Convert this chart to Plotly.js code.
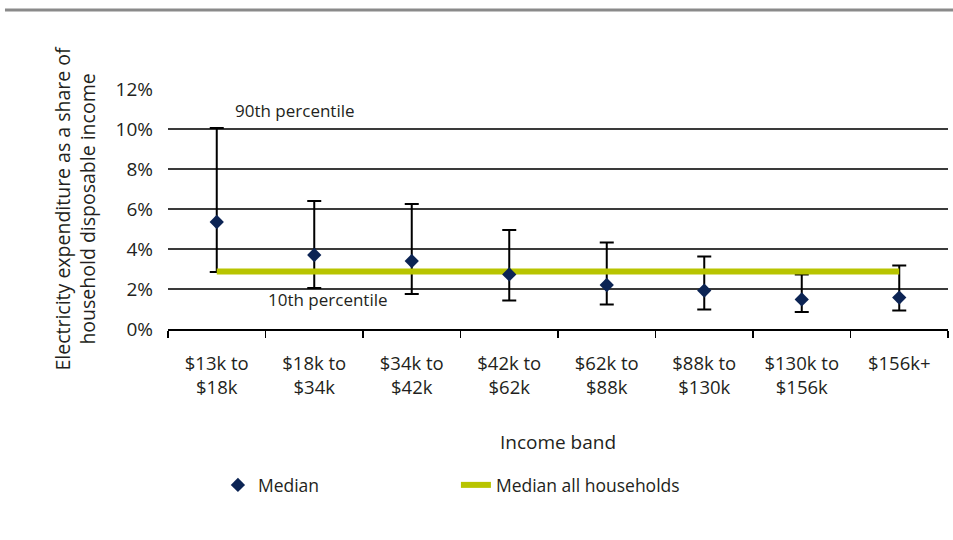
<!DOCTYPE html>
<html>
<head>
<meta charset="utf-8">
<script src="https://cdn.plot.ly/plotly-3.0.1.min.js"></script>
<style>html,body{margin:0;padding:0;background:#fff;}#chart{width:953px;height:540px;}</style>
</head>
<body>
<div id="chart"></div>
<script>
const categories = ["$13k to<br>$18k","$18k to<br>$34k","$34k to<br>$42k","$42k to<br>$62k","$62k to<br>$88k","$88k to<br>$130k","$130k to<br>$156k","$156k+"];
const median = [5.35, 3.7, 3.4, 2.73, 2.2, 1.92, 1.48, 1.57];
const p90 = [10.05, 6.4, 6.25, 4.95, 4.32, 3.62, 2.72, 3.17];
const p10 = [2.85, 2.05, 1.75, 1.43, 1.22, 0.98, 0.85, 0.92];
const medianAll = 2.87;
const yTicks = [0, 2, 4, 6, 8, 10, 12];

const FONT = "Open Sans, sans-serif";
const TXT = "#231f20";

const errPlus = p90.map((v, i) => v - median[i]);
const errMinus = p10.map((v, i) => median[i] - v);

const traces = [
  {
    x: categories, y: median, type: "scatter", mode: "markers",
    marker: {size: 1, color: "rgba(0,0,0,0)"},
    error_y: {type: "data", symmetric: false, array: errPlus, arrayminus: errMinus,
              color: "#000", thickness: 2, width: 7},
    showlegend: false, hoverinfo: "skip"
  },
  {
    x: [categories[0], categories[categories.length - 1]], y: [medianAll, medianAll],
    type: "scatter", mode: "lines", name: "Median all households",
    line: {color: "#b8c400", width: 6}, legendrank: 2
  },
  {
    x: categories, y: median, type: "scatter", mode: "markers", name: "Median",
    marker: {symbol: "diamond", size: 11, color: "#0c2454"}, legendrank: 1
  }
];

const layout = {
  width: 953, height: 540,
  margin: {l: 168, r: 5, t: 89, b: 211},
  paper_bgcolor: "#fff", plot_bgcolor: "#fff",
  font: {family: FONT, size: 17, color: TXT},
  showlegend: true,
  legend: {orientation: "h", x: 0.064, xanchor: "left", y: -0.65, yanchor: "middle",
           font: {family: FONT, size: 17.5, color: TXT}, entrywidth: 193, entrywidthmode: "pixels",
           itemwidth: 30, traceorder: "normal"},
  xaxis: {
    type: "category", range: [-0.5, 7.5], tickson: "boundaries", ticks: "outside",
    ticklen: 7, tickcolor: "#000", tickwidth: 1.5, showline: true, linecolor: "#000", linewidth: 1.5,
    showgrid: false, zeroline: false, ticklabelstandoff: 17,
    tickfont: {family: FONT, size: 18.5, color: TXT},
    title: {text: "Income band", font: {family: FONT, size: 19, color: TXT}, standoff: 38}
  },
  yaxis: {
    range: [0, 12], tickvals: yTicks, ticktext: yTicks.map(v => v + "%"),
    showgrid: true, gridcolor: "#3a3a3a", gridwidth: 1.2, zeroline: false, showline: false,
    ticks: "", ticklabelstandoff: 14,
    tickfont: {family: FONT, size: 19, color: TXT},
    title: {text: "Electricity expenditure as a share of<br>household disposable income",
            font: {family: FONT, size: 19.5, color: TXT}, standoff: 14}
  },
  shapes: [
    {type: "line", xref: "paper", yref: "paper", x0: -0.209, x1: 1.01, y0: 1.329, y1: 1.329,
     line: {color: "#8a8a8a", width: 3}}
  ],
  annotations: [
    {x: categories[0], y: p90[0], xref: "x", yref: "y", text: "90th percentile", showarrow: false,
     xanchor: "left", yanchor: "bottom", xshift: 16, yshift: 4, font: {family: FONT, size: 17, color: TXT}},
    {x: categories[1], y: p10[1], xref: "x", yref: "y", text: "10th percentile", showarrow: false,
     xanchor: "center", yanchor: "top", xshift: 14, yshift: 2, font: {family: FONT, size: 17, color: TXT}}
  ]
};

Plotly.newPlot("chart", traces, layout, {displayModeBar: false, staticPlot: true});
</script>
</body>
</html>
